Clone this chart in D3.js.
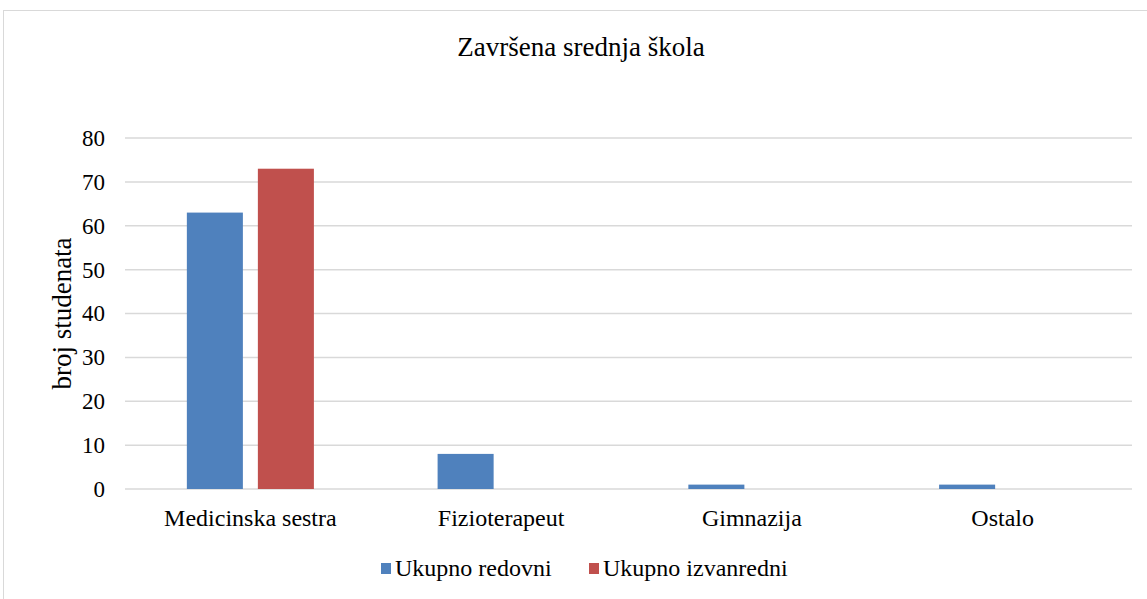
<!DOCTYPE html>
<html>
<head>
<meta charset="utf-8">
<script src="https://cdn.jsdelivr.net/npm/d3@7"></script>
<style>
  body { margin: 0; background: #fff; }
</style>
</head>
<body>
<div id="chart"></div>
<script>
const categories = ["Medicinska sestra", "Fizioterapeut", "Gimnazija", "Ostalo"];
const seriesNames = ["Ukupno redovni", "Ukupno izvanredni"];
const redovni = [63, 8, 1, 1];
const izvanredni = [73, 0, 0, 0];
const yTicks = [0, 10, 20, 30, 40, 50, 60, 70, 80];
const colors = ["#4F81BD", "#C0504D"];

const width = 1147, height = 599;
const margin = { left: 125, right: 19, top: 138, bottom: 110 };
const FONT = "Liberation Serif";

const svg = d3.select("#chart").append("svg")
    .attr("width", width)
    .attr("height", height)
    .attr("font-family", FONT);

// outer chart border
svg.append("rect")
    .attr("x", 3.5).attr("y", 10.5)
    .attr("width", width + 10).attr("height", height + 10)
    .attr("fill", "#fff")
    .attr("stroke", "#d9d9d9");

const x0 = d3.scaleBand()
    .domain(categories)
    .range([margin.left, width - margin.right])
    .padding(0);

const x1 = d3.scaleBand()
    .domain(seriesNames)
    .range([0, x0.bandwidth()])
    .paddingInner(0.211)
    .paddingOuter(0.871);

const y = d3.scaleLinear()
    .domain([0, 80])
    .range([height - margin.bottom, margin.top]);

// gridlines
svg.append("g")
    .selectAll("line")
    .data(yTicks)
    .enter().append("line")
      .attr("x1", margin.left)
      .attr("x2", width - margin.right + 4)
      .attr("y1", d => y(d))
      .attr("y2", d => y(d))
      .attr("stroke", "#d9d9d9")
      .attr("stroke-width", 1.5);

// y axis labels
const yAxis = svg.append("g")
    .attr("transform", `translate(${margin.left - 20},0)`)
    .call(d3.axisLeft(y).tickValues(yTicks).tickSize(0).tickPadding(0));
yAxis.attr("font-family", FONT).attr("font-size", 23);
yAxis.select(".domain").remove();
yAxis.selectAll("text").attr("fill", "#000");

// x axis labels
const xAxis = svg.append("g")
    .attr("transform", `translate(0,${y(0) + 20})`)
    .call(d3.axisBottom(x0).tickSize(0).tickPadding(0));
xAxis.attr("font-family", FONT).attr("font-size", 24);
xAxis.select(".domain").remove();
xAxis.selectAll("text").attr("fill", "#000");

// bars
const rows = categories.map((c, i) => ({ cat: c, vals: [redovni[i], izvanredni[i]] }));
const group = svg.append("g")
    .selectAll("g")
    .data(rows)
    .enter().append("g")
      .attr("transform", d => `translate(${x0(d.cat)},0)`);

group.selectAll("rect")
    .data(d => d.vals.map((v, j) => ({ name: seriesNames[j], value: v, j: j })))
    .enter().append("rect")
      .attr("x", d => x1(d.name))
      .attr("width", x1.bandwidth())
      .attr("y", d => y(d.value))
      .attr("height", d => y(0) - y(d.value))
      .attr("fill", d => colors[d.j]);

// title
svg.append("text")
    .attr("x", 581)
    .attr("y", 56)
    .attr("text-anchor", "middle")
    .attr("font-size", 27)
    .text("Završena srednja škola");

// y axis title
svg.append("text")
    .attr("transform", `translate(71,${(y(0) + y(80)) / 2}) rotate(-90)`)
    .attr("text-anchor", "middle")
    .attr("font-size", 27)
    .text("broj studenata");

// legend
const legendItems = [
    { name: seriesNames[0], x: 381 },
    { name: seriesNames[1], x: 589 }
];
const legend = svg.append("g")
    .selectAll("g")
    .data(legendItems)
    .enter().append("g")
      .attr("transform", d => `translate(${d.x},563)`);
legend.append("rect")
    .attr("width", 10).attr("height", 11)
    .attr("fill", (d, i) => colors[i]);
legend.append("text")
    .attr("x", 14)
    .attr("y", 13)
    .attr("font-size", 24)
    .text(d => d.name);
</script>
</body>
</html>
